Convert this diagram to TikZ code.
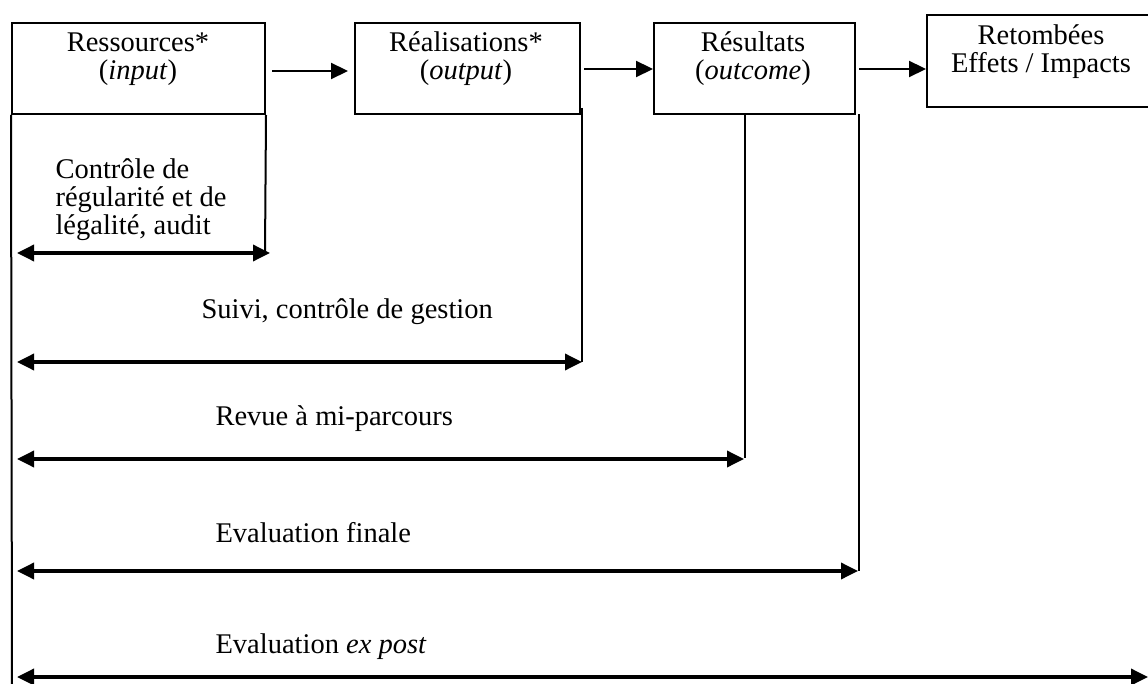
\documentclass[tikz,border=0pt]{standalone}
\usepackage{fontspec}
\setmainfont{Liberation Serif}
\usetikzlibrary{arrows.meta,positioning}
\tikzset{
  etape/.style={draw, line width=2pt, inner sep=0pt, minimum height=91pt},
  titre/.style={align=center, font=\fontsize{28.5}{28}\selectfont},
  libelle/.style={anchor=west, align=left, font=\fontsize{28.5}{28}\selectfont},
  fleche/.style={line width=2.2pt, -{Triangle[length=17pt,width=16pt]}},
  duree/.style={line width=3.5pt, {Triangle[length=17pt,width=16pt]}-{Triangle[length=17pt,width=16pt]}},
  borne/.style={line width=2pt},
}
\begin{document}
\begin{tikzpicture}[x=1pt,y=-1pt]
			%%%%% START %%%%%
			\useasboundingbox (0,0) rectangle (1148,684);
			
			% les quatre etapes
			\node[etape, minimum width=253pt] (res) at (138.5,68.5) {};
			\node[titre] (resT) at (138,59) {Ressources*\\(\textit{input})};
			\node[etape, minimum width=225pt] (rea) at (467.5,68.5) {};
			\node[titre] (reaT) at (466,59) {Réalisations*\\(\textit{output})};
			\node[etape, minimum width=201pt] (resu) at (754.5,68.5) {};
			\node[titre] (resuT) at (753,59) {Résultats\\(\textit{outcome})};
			\node[etape, minimum width=226pt, minimum height=92pt] (ret) at (1040,61) {};
			\node[titre] (retT) at (1041,52) {Retombées\\Effets / Impacts};
			
			\draw[fleche] (272,71) -- (348,71);
			\draw[fleche] (584,69) -- (resu.west |- 0,69);
			\draw[fleche] (859,69) -- (ret.west |- 0,69);
			
			% bornes verticales
			\coordinate (b0) at (12,684);
			\coordinate (b1) at (265,253);
			\coordinate (b2h) at (582,108);
			\coordinate (b2) at (582,362);
			\coordinate (b3h) at (745,114);
			\coordinate (b3) at (745,458);
			\coordinate (b4h) at (859,114);
			\coordinate (b4) at (859,571);
			
			\draw[borne] (res.south west) -- (b0);
			\draw[borne] (res.south east) -- (b1);
			\draw[borne] (b2h) -- (b2);
			\draw[line width=1.3pt] (b3h) -- (b3);
			\draw[borne] (b4h) -- (b4);
			
			% durees
			\coordinate (d1a) at (17,253);
			\coordinate (d1b) at (270,253);
			\coordinate (d2a) at (17,362);
			\coordinate (d2b) at (582,362);
			\coordinate (d3a) at (17,459);
			\coordinate (d3b) at (744,459);
			\coordinate (d4a) at (17,571);
			\coordinate (d4b) at (858,571);
			\coordinate (d5a) at (17,677);
			\coordinate (d5b) at (1148,677);
			
			\draw[duree] (d1a) -- (d1b);
			\draw[duree] (d2a) -- (d2b);
			\draw[duree] (d3a) -- (d3b);
			\draw[duree] (d4a) -- (d4b);
			\draw[duree] (d5a) -- (d5b);
			
			\node[libelle] (audit) at (52,200) {Contrôle de\\régularité et de\\légalité, audit};
			\node[libelle] (suivi) at (198,312) {Suivi, contrôle de gestion};
			\node[libelle] (revue) at (212,419) {Revue à mi-parcours};
			\node[libelle] (finale) at (212,533) {Evaluation finale};
			\node[libelle] (expost) at (212,647) {Evaluation \textit{ex post}};
			
			%%%%% END %%%%%
\end{tikzpicture}
\end{document}
